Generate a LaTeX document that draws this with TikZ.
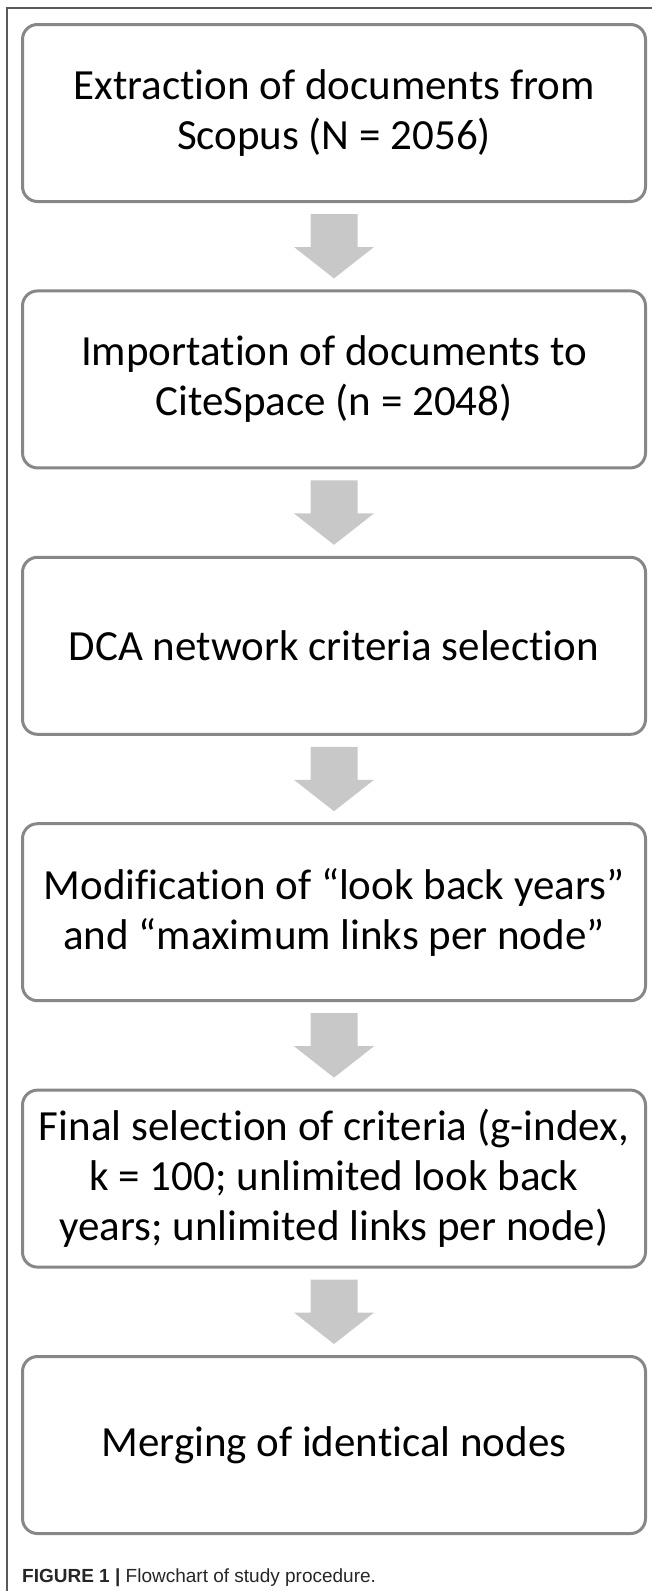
\documentclass[tikz,border=0pt]{standalone}
\usepackage{fontspec}
\setmainfont{Carlito}[Ligatures=NoCommon]
\newfontfamily\capfont{Liberation Sans}
\usetikzlibrary{calc}
\definecolor{boxline}{RGB}{135,135,135}
\definecolor{arrowfill}{RGB}{200,200,200}
\definecolor{framecol}{RGB}{90,90,90}
\newcommand\blockarr[2]{%
  \fill[arrowfill] ($(#1.south)+(-23.5,-11)$) -- ($(#1.south)+(23.5,-11)$) -- ($(#1.south)+(23.5,-44)$) -- ($(#1.south)+(40,-44)$) -- ($(#2.north)+(0,11)$) -- ($(#1.south)+(-40,-44)$) -- ($(#1.south)+(-23.5,-44)$) -- cycle;}
\begin{document}
\begin{tikzpicture}[x=1pt,y=1pt,
  stepbox/.style={draw=boxline, line width=3pt, rounded corners=15pt, fill=white,
    minimum width=623pt, minimum height=177pt, inner sep=0pt, align=center,
    font=\fontsize{43}{50}\selectfont}]
\useasboundingbox (0,0) rectangle (652,-1591);
\draw[framecol, line width=1.5pt] (7,-1591) -- (7,-8) -- (652,-8);
\node[stepbox] (b1) at (334,-113) {Extraction of documents from\\Scopus (N = 2056)};
\node[stepbox] (b2) at (334,-379.4) {Importation of documents to\\CiteSpace (n = 2048)};
\node[stepbox] (b3) at (334,-645.8) {DCA network criteria selection};
\node[stepbox] (b4) at (334,-912.2) {Modification of “look back years”\\and “maximum links per node”};
\node[stepbox] (b5) at (334,-1178.6) {Final selection of criteria (g-index,\\k = 100; unlimited look back\\years; unlimited links per node)};
\node[stepbox] (b6) at (334,-1445) {Merging of identical nodes};
\blockarr{b1}{b2}
\blockarr{b2}{b3}
\blockarr{b3}{b4}
\blockarr{b4}{b5}
\blockarr{b5}{b6}
\node[anchor=west, inner sep=0pt, text=black!85, font=\capfont\fontsize{19}{21}\selectfont] (cap) at (22,-1578) {\textbf{FIGURE 1 |} Flowchart of study procedure.};
\end{tikzpicture}
\end{document}
